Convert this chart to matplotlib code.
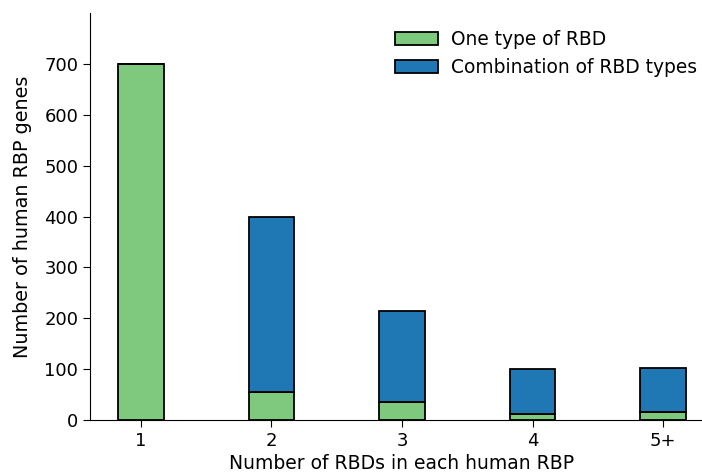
import matplotlib
matplotlib.use("Agg")
import matplotlib.pyplot as plt

categories = ['1', '2', '3', '4', '5+']
one_type = [700, 55, 35, 12, 15]
combination = [0, 345, 179, 88, 87]

fig = plt.figure(figsize=(7.02, 4.74), dpi=100)
ax = fig.add_axes([90 / 702, 54 / 474, 624 / 702, 407 / 474])

x = list(range(len(categories)))
ax.bar(x, one_type, width=0.35, color='#7fc97f', edgecolor='black', linewidth=1.3,
       label='One type of RBD')
ax.bar(x, combination, width=0.35, bottom=one_type, color='#1f77b4', edgecolor='black',
       linewidth=1.3, label='Combination of RBD types')

ax.set_xlim(-0.39, 4.39)
ax.set_ylim(0, 800)
ax.set_yticks(range(0, 800, 100))
ax.set_xticks(x)
ax.set_xticklabels(categories)
ax.tick_params(labelsize=13, length=5)
ax.spines['top'].set_visible(False)
ax.spines['right'].set_visible(False)
ax.set_xlabel('Number of RBDs in each human RBP', fontsize=13.5, labelpad=3)
ax.set_ylabel('Number of human RBP genes', fontsize=13.8, labelpad=9)
ax.legend(frameon=False, fontsize=13.4, loc='upper right', bbox_to_anchor=(0.999, 1.0),
          handlelength=2.3, handletextpad=0.7)

fig.savefig('out.png', dpi=100)
